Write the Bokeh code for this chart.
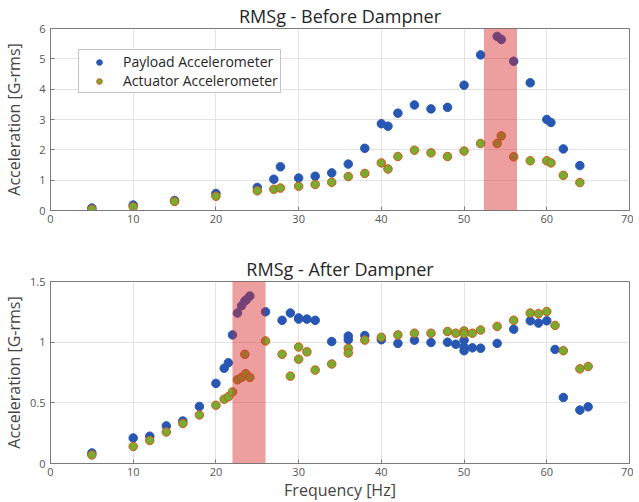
from bokeh.plotting import figure
from bokeh.layouts import column
from bokeh.models import Legend, LegendItem, FixedTicker, Range1d
from bokeh.embed import file_html
from bokeh.resources import INLINE

# ---------------- data ----------------
# Before dampner
freq_before = [5, 10, 15, 20, 25, 27, 27.8, 30, 32, 34, 36, 38, 40, 40.8, 42, 44, 46, 48,
               50, 52, 54, 54.5, 56, 58, 60, 60.5, 62, 64]
payload_before = [0.08, 0.18, 0.33, 0.56, 0.76, 1.03, 1.44, 1.07, 1.13, 1.24, 1.53, 2.05, 2.86,
                  2.78, 3.21, 3.48, 3.35, 3.40, 4.13, 5.13, 5.74, 5.64, 4.92, 4.21, 3.00, 2.90,
                  2.03, 1.48]
actuator_before = [0.04, 0.12, 0.30, 0.47, 0.65, 0.70, 0.74, 0.80, 0.86, 0.93, 1.12, 1.22, 1.57,
                   1.37, 1.78, 1.99, 1.90, 1.78, 1.96, 2.21, 2.21, 2.46, 1.77, 1.64, 1.64, 1.57,
                   1.16, 0.92]
band_before = [52.4, 56.4]

# After dampner
freq_after_payload = [5, 10, 12, 14, 16, 18, 20, 21, 21.5, 22, 22.6, 23.1, 23.5, 23.7, 24.1,
                      26, 28, 29, 30, 30, 31, 32, 34, 36, 36, 38, 40, 42, 44, 46, 48, 49,
                      50, 50, 50, 51, 52, 54, 56, 58, 59, 60, 61, 62, 64, 65]
payload_after = [0.087, 0.21, 0.225, 0.31, 0.35, 0.47, 0.66, 0.785, 0.83, 1.06, 1.24, 1.30,
                 1.34, 1.35, 1.38, 1.25, 1.18, 1.24, 1.20, 1.19, 1.19, 1.18, 1.005, 1.05, 1.02,
                 1.055, 1.02, 0.99, 1.016, 0.997, 1.0, 0.983, 1.016, 0.959, 0.93, 0.953, 0.95,
                 0.99, 1.107, 1.176, 1.157, 1.176, 0.94, 0.544, 0.44, 0.467]
freq_after_actuator = [5, 10, 12, 14, 16, 18, 20, 21, 21.5, 22, 22.6, 23.1, 23.5, 23.6, 24.1,
                       26, 28, 29, 30, 30, 31, 32, 34, 36, 36, 38, 40, 42, 44, 46, 48, 49,
                       50, 50, 51, 52, 54, 56, 58, 59, 60, 61, 62, 64, 65]
actuator_after = [0.071, 0.14, 0.19, 0.26, 0.33, 0.40, 0.48, 0.53, 0.55, 0.59, 0.69, 0.71,
                  0.90, 0.74, 0.71, 1.01, 0.90, 0.72, 0.96, 0.86, 0.92, 0.77, 0.82, 0.95, 0.91,
                  1.017, 1.04, 1.06, 1.074, 1.074, 1.088, 1.074, 1.093, 1.07, 1.074, 1.10, 1.13,
                  1.18, 1.24, 1.235, 1.253, 1.138, 0.93, 0.78, 0.80]
band_after = [22, 26]

x_ticks = [0, 10, 20, 30, 40, 50, 60, 70]
y_ticks_before = [0, 1, 2, 3, 4, 5, 6]
y_ticks_after = [0, 0.5, 1, 1.5]
y_labels_after = {0: "0", 0.5: "0.5", 1: "1", 1.5: "1.5"}

FONT = "Open Sans"
BLUE = "#2757b2"
GREEN = "#77ac30"
ORANGE = "#d95319"
AXIS = "#7a7a7a"
TXT = "#262626"


def make_fig(title, y_max, y_ticks, top_border, bottom_border, label_standoff):
    p = figure(frame_width=579, frame_height=182, output_backend="svg",
               toolbar_location=None, x_range=Range1d(0, 70), y_range=Range1d(0, y_max),
               min_border_left=40, min_border_right=4, min_border_top=top_border,
               min_border_bottom=bottom_border, title=title)
    p.title.align = "center"
    p.title.text_font = FONT
    p.title.text_font_size = "18px"
    p.title.text_font_style = "normal"
    p.title.text_color = TXT
    p.title.standoff = 2
    p.outline_line_color = AXIS
    p.outline_line_alpha = 1
    p.background_fill_color = "white"
    for ax in (p.xaxis[0], p.yaxis[0]):
        ax.axis_line_color = AXIS
        ax.major_tick_line_color = AXIS
        ax.major_tick_in = 4
        ax.major_tick_out = 0
        ax.minor_tick_line_color = None
        ax.major_label_text_font = FONT
        ax.major_label_text_font_size = "11px"
        ax.major_label_text_color = "#555555"
        ax.axis_label_text_font = FONT
        ax.axis_label_text_font_size = "16px"
        ax.axis_label_text_font_style = "normal"
        ax.axis_label_text_color = "#444444"
    p.xaxis[0].ticker = FixedTicker(ticks=x_ticks)
    p.yaxis[0].ticker = FixedTicker(ticks=y_ticks)
    p.xaxis[0].major_label_standoff = 4
    p.yaxis[0].major_label_standoff = 5
    p.yaxis[0].axis_label = "Acceleration [G-rms]"
    p.yaxis[0].axis_label_standoff = label_standoff
    p.xgrid.grid_line_color = "#e3e3e3"
    p.ygrid.grid_line_color = "#e3e3e3"
    return p


# ---------- top ----------
p1 = make_fig("RMSg - Before Dampner", 6, y_ticks_before, 21, 24, 11)
r1 = p1.scatter(freq_before, payload_before, size=8.5, fill_color=BLUE, line_color=BLUE)
r2 = p1.scatter(freq_before, actuator_before, size=8.5, fill_color=GREEN, line_color=ORANGE,
                line_width=1)
p1.quad(left=[band_before[0]], right=[band_before[1]], bottom=[0], top=[6],
        fill_color="#d62728", fill_alpha=0.45, line_color=None)

legend = Legend(items=[LegendItem(label="Payload Accelerometer", renderers=[r1]),
                       LegendItem(label="Actuator Accelerometer", renderers=[r2])],
                location=(28, 117))
legend.label_text_font = FONT
legend.label_text_font_size = "14px"
legend.label_text_color = TXT
legend.label_height = 14
legend.glyph_height = 14
legend.glyph_width = 36
legend.label_standoff = 6
legend.spacing = 0
legend.padding = 2
legend.margin = 0
legend.border_line_color = "#8c8c8c"
legend.background_fill_alpha = 1
p1.add_layout(legend, "center")

# ---------- bottom ----------
p2 = make_fig("RMSg - After Dampner", 1.5, y_ticks_after, 47, 30, 2)
p2.yaxis[0].major_label_overrides = y_labels_after
p2.xaxis[0].axis_label = "Frequency [Hz]"
p2.xaxis[0].axis_label_standoff = 0
p2.scatter(freq_after_payload, payload_after, size=8.5, fill_color=BLUE, line_color=BLUE)
p2.scatter(freq_after_actuator, actuator_after, size=8.5, fill_color=GREEN, line_color=ORANGE,
           line_width=1)
p2.quad(left=[band_after[0]], right=[band_after[1]], bottom=[0], top=[1.5],
        fill_color="#d62728", fill_alpha=0.45, line_color=None)

layout = column(p1, p2, spacing=0)
open("out.html", "w").write(file_html(layout, INLINE))
